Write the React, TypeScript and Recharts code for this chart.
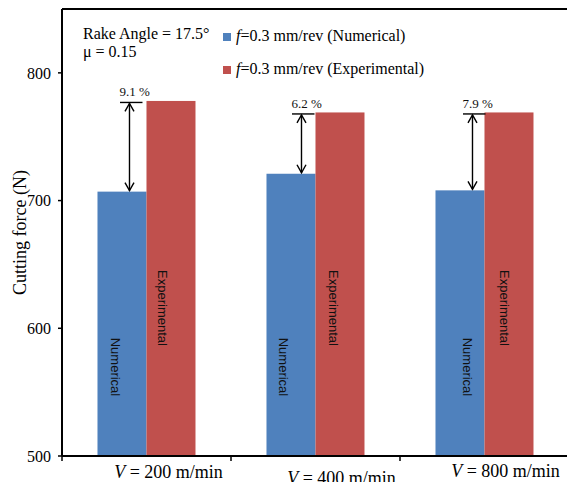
import { BarChart, Bar, XAxis, YAxis, Legend, ReferenceLine } from 'recharts';

// values
const speeds = ['200', '400', '800'];
const numerical = [707, 721, 708];
const experimental = [778, 769, 769];
const deviations = ['9.1 %', '6.2 %', '7.9 %'];
const yTicks = [500, 600, 700, 800];
const seriesNames = ['f=0.3 mm/rev (Numerical)', 'f=0.3 mm/rev (Experimental)'];

const data = speeds.map((s, i) => ({
  speed: s,
  numerical: numerical[i],
  experimental: experimental[i],
  dev: deviations[i],
}));

const BLUE = '#4F81BD';
const RED = '#C0504D';
const SERIF = '"Liberation Serif", "Times New Roman", serif';
const SANS = '"Liberation Sans", Arial, sans-serif';
const Y_MIN = 500;

// small per-group nudges to follow the original placement
const numLabelDx = [18, 17, 32];
const expLabelDx = [16, 18, 20];
const arrowDx = [-17, -14, -12];
const tickDx = [22, 26, 21];
const tickDy = [-2, 4, -3];

const NumericalShape = (p: any) => {
  const { x, y, width, height, index } = p;
  const cx = x + numLabelDx[index];
  const cy = y + height - 89;
  return (
    <g>
      <rect x={x} y={y} width={width} height={height} fill={BLUE} />
      <text
        x={cx}
        y={cy}
        transform={`rotate(90 ${cx} ${cy})`}
        textAnchor="middle"
        dominantBaseline="central"
        fontFamily={SANS}
        fontSize={13}
        fill="#111"
      >
        Numerical
      </text>
    </g>
  );
};

const ExperimentalShape = (p: any) => {
  const { x, y, width, height, index, payload } = p;
  const cx = x + expLabelDx[index];
  const cy = y + height - 148;
  // bar geometry gives the pixel scale, so the numerical top comes from the same scale
  const perUnit = height / (payload.experimental - Y_MIN);
  const yNum = y + height - (payload.numerical - Y_MIN) * perUnit;
  const ax = x + arrowDx[index];
  const top = y + 1.5;
  return (
    <g>
      <rect x={x} y={y} width={width} height={height} fill={RED} />
      <text
        x={cx}
        y={cy}
        transform={`rotate(90 ${cx} ${cy})`}
        textAnchor="middle"
        dominantBaseline="central"
        fontFamily={SANS}
        fontSize={13}
        fill="#111"
      >
        Experimental
      </text>
      <g stroke="#000" strokeWidth={1.4} fill="none">
        <line x1={ax - 9.5} y1={top} x2={ax + 13} y2={top} />
        <line x1={ax} y1={top + 1} x2={ax} y2={yNum - 1} />
        <polyline points={`${ax - 4.5},${top + 9} ${ax},${top + 1} ${ax + 4.5},${top + 9}`} />
        <polyline points={`${ax - 4.5},${yNum - 9} ${ax},${yNum - 1} ${ax + 4.5},${yNum - 9}`} />
      </g>
      <text x={ax - 10} y={top - 6} fontFamily={SERIF} fontSize={13} fill="#111">
        {payload.dev}
      </text>
    </g>
  );
};

const SpeedTick = (p: any) => {
  const { x, y, payload, index } = p;
  const half = payload.offset ?? 84.5;
  const bx = x - half;
  return (
    <g>
      <line x1={bx} y1={y - 8} x2={bx} y2={y - 3} stroke="#000" strokeWidth={1.5} />
      <text
        x={x + tickDx[index]}
        y={y + 16 + tickDy[index]}
        textAnchor="middle"
        fontFamily={SERIF}
        fontSize={18}
        fill="#000"
      >
        <tspan fontStyle="italic">V</tspan> = {payload.value} m/min
      </text>
    </g>
  );
};

const YLabel = (p: any) => {
  const vb = p.viewBox || { x: 0, y: 9, width: 62, height: 447 };
  const lx = vb.x + 26;
  const ly = vb.y + vb.height / 2;
  return (
    <text
      x={lx}
      y={ly}
      transform={`rotate(-90 ${lx} ${ly})`}
      textAnchor="middle"
      fontFamily={SERIF}
      fontSize={18}
      fill="#000"
    >
      Cutting force (N)
    </text>
  );
};

const renderLegend = (props: any) => {
  const items = [...(props.payload || [])].sort(
    (a: any, b: any) => seriesNames.indexOf(a.value) - seriesNames.indexOf(b.value)
  );
  return (
    <div style={{ fontFamily: SERIF, fontSize: 16, color: '#000' }}>
      {items.map((it: any, i: number) => (
        <div
          key={i}
          style={{ display: 'flex', alignItems: 'center', height: 18, marginBottom: 15, whiteSpace: 'nowrap' }}
        >
          <span style={{ display: 'inline-block', width: 8, height: 8, background: it.color, marginRight: 5, marginTop: 2 }} />
          <span>
            <i>f</i>
            {String(it.value).slice(1)}
          </span>
        </div>
      ))}
    </div>
  );
};

export default function App() {
  return (
    <div style={{ position: 'absolute', left: 0, top: 0, width: 567, height: 482, overflow: 'hidden', background: '#fff' }}>
      <BarChart
        width={580}
        height={482}
        data={data}
        margin={{ top: 9, right: 11, bottom: 0, left: 0 }}
        barCategoryGap="21%"
        barGap={0}
      >
        <XAxis
          dataKey="speed"
          height={26}
          axisLine={{ stroke: '#000', strokeWidth: 2 }}
          tickLine={false}
          tick={<SpeedTick />}
          interval={0}
        />
        <YAxis
          width={62}
          domain={[500, 850]}
          ticks={yTicks}
          allowDataOverflow
          axisLine={{ stroke: '#000', strokeWidth: 2 }}
          tickLine={{ stroke: '#000', strokeWidth: 1.5 }}
          tickSize={4}
          tickMargin={7}
          tick={{ fill: '#000', fontSize: 16, fontFamily: SERIF }}
          label={<YLabel />}
        />
        <ReferenceLine y={850} stroke="#000" strokeWidth={2} />
        <Legend
          layout="vertical"
          align="center"
          verticalAlign="middle"
          content={renderLegend}
          wrapperStyle={{ left: 223, top: 27, width: 'auto' }}
        />
        <Bar dataKey="numerical" name={seriesNames[0]} fill={BLUE} shape={<NumericalShape />} isAnimationActive={false} />
        <Bar dataKey="experimental" name={seriesNames[1]} fill={RED} shape={<ExperimentalShape />} isAnimationActive={false} />
      </BarChart>
      <div
        style={{
          position: 'absolute',
          left: 83,
          top: 25,
          fontFamily: SERIF,
          fontSize: 16,
          lineHeight: '18px',
          color: '#000',
        }}
      >
        <div>Rake Angle = 17.5°</div>
        <div>μ = 0.15</div>
      </div>
    </div>
  );
}
